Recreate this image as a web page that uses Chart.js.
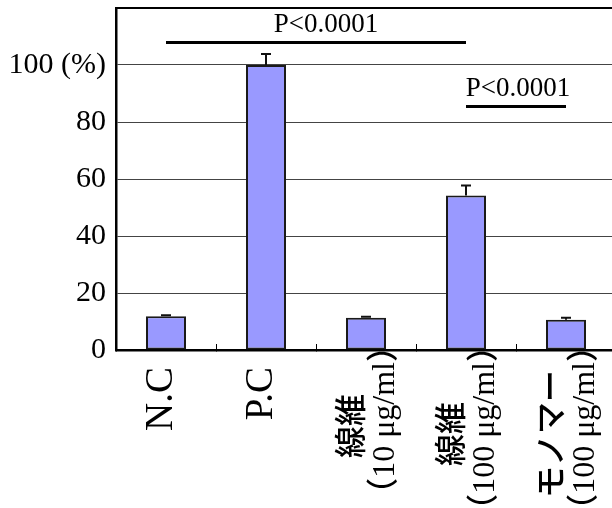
<!DOCTYPE html>
<html>
<head>
<meta charset="utf-8">
<script src="https://cdn.jsdelivr.net/npm/chart.js@4"></script>
<style>
  html, body { margin: 0; padding: 0; background: #fff; overflow: hidden; }
  #wrap { width: 620px; height: 508px; }
</style>
</head>
<body>
<div id="wrap"><canvas id="chart"></canvas></div>
<script>
// Chart data
const categories = [['N.C'], ['P.C'], ['線維', '（10 μg/ml）'], ['線維', '（100 μg/ml）'], ['モノマー', '（100 μg/ml）']];
const values = [11.8, 100, 11.3, 54.2, 10.6];
const errors = [0.4, 3.9, 0.4, 3.5, 0.7];
const yTicks = [0, 20, 40, 60, 80, 100, 120];

// significance brackets: from category, to category, height, label
const sigFrom = [0, 3];
const sigTo = [3, 4];
const sigLevel = [108, 85.5];
const sigText = ['P<0.0001', 'P<0.0001'];

const FAMILY = '"Liberation Serif", "Noto Sans CJK JP", serif';
const BIG = 39;
const SMALL = 32;

// rotated labels are right aligned against the axis; pad so they sit like the original
const measureCtx = document.createElement('canvas').getContext('2d');
function padLabel(lines, size) {
    if (lines.length < 2) {
        // single line: empty first line shifts it back onto the tick, trailing spaces push it down
        return ['', lines[0] + '   \u2009'];
    }
    measureCtx.font = '500 ' + size + 'px ' + FAMILY;
    const diff = measureCtx.measureText(lines[1]).width - measureCtx.measureText(lines[0]).width;
    const sp = measureCtx.measureText(' ').width;
    const n = Math.max(0, Math.round(diff / 2 / sp) + 1);
    return [lines[0] + ' '.repeat(n), lines[1]];
}

const overlay = {
    id: 'overlay',
    afterDatasetsDraw(chart) {
        const ctx = chart.ctx;
        const x = chart.scales.x;
        const y = chart.scales.y;
        const area = chart.chartArea;
        ctx.save();

        // error bars (upper only)
        ctx.strokeStyle = '#111';
        ctx.lineWidth = 2;
        values.forEach((v, i) => {
            const px = x.getPixelForValue(i);
            const top = y.getPixelForValue(v + errors[i]);
            ctx.beginPath();
            ctx.moveTo(px, y.getPixelForValue(v));
            ctx.lineTo(px, top);
            ctx.moveTo(px - 5, top);
            ctx.lineTo(px + 5, top);
            ctx.stroke();
        });

        // significance lines
        ctx.lineWidth = 3;
        ctx.strokeStyle = '#000';
        ctx.fillStyle = '#000';
        ctx.font = '27px ' + FAMILY;
        ctx.textAlign = 'center';
        ctx.textBaseline = 'bottom';
        sigFrom.forEach((f, i) => {
            const x1 = x.getPixelForValue(f);
            const x2 = x.getPixelForValue(sigTo[i]);
            const py = Math.round(y.getPixelForValue(sigLevel[i])) + 0.5;
            ctx.beginPath();
            ctx.moveTo(x1, py);
            ctx.lineTo(x2, py);
            ctx.stroke();
            const tx = i === 0 ? (x1 + x2) / 2 + 10 : (x1 + x2) / 2 + 2;
            ctx.fillText(sigText[i], tx, py - 4);
        });

        // top frame
        ctx.lineWidth = 2;
        ctx.beginPath();
        ctx.moveTo(area.left, area.top);
        ctx.lineTo(area.right, area.top);
        ctx.stroke();
        ctx.restore();
    }
};

new Chart(document.getElementById('chart'), {
    type: 'bar',
    data: {
        labels: categories,
        datasets: [{
            data: values,
            backgroundColor: '#9999ff',
            borderColor: '#1a1a1a',
            borderWidth: 2,
            borderSkipped: false,
            barPercentage: 0.4,
            categoryPercentage: 1.0
        }]
    },
    options: {
        responsive: true,
        maintainAspectRatio: false,
        animation: false,
        layout: { padding: { top: 8, right: 4, left: 0, bottom: 0 } },
        plugins: {
            legend: { display: false },
            tooltip: { enabled: false }
        },
        scales: {
            x: {
                offset: true,
                afterFit(scale) {
                    scale.height = 158;
                    scale.paddingLeft = 0;
                    scale.paddingRight = 0;
                },
                grid: {
                    offset: true,
                    drawOnChartArea: false,
                    drawTicks: true,
                    tickLength: -6,
                    color: '#000',
                    lineWidth: 1
                },
                border: { color: '#000', width: 2.5 },
                ticks: {
                    autoSkip: false,
                    maxRotation: 90,
                    minRotation: 90,
                    padding: -14,
                    labelOffset: -12,
                    color: '#000',
                    font: (c) => c.index < 2
                        ? { family: FAMILY, size: BIG, lineHeight: '8px' }
                        : { family: FAMILY, size: SMALL, weight: 500, lineHeight: 1.0 },
                    callback(value, index) {
                        return padLabel(categories[index], index < 2 ? BIG : SMALL);
                    }
                }
            },
            y: {
                min: 0,
                max: 120,
                afterFit(scale) {
                    scale.width = 116;
                    scale.paddingTop = 0;
                    scale.paddingBottom = 0;
                },
                afterBuildTicks(scale) { scale.ticks = yTicks.map(v => ({ value: v })); },
                grid: {
                    drawTicks: false,
                    color: (c) => c.tick && c.tick.value === 120 ? 'rgba(0,0,0,0)' : '#444',
                    lineWidth: 1
                },
                border: { color: '#000', width: 2.5 },
                ticks: {
                    padding: 10,
                    color: '#000',
                    font: { family: FAMILY, size: 30 },
                    callback: (v) => v === 120 ? '' : (v === 100 ? '100 (%)' : v)
                }
            }
        }
    },
    plugins: [overlay]
});
</script>
</body>
</html>
